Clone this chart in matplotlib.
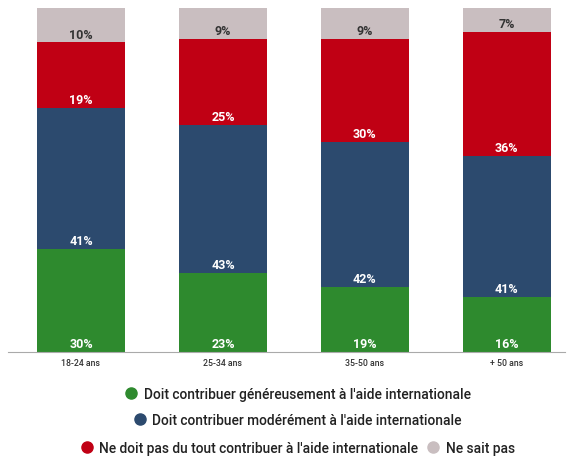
import matplotlib.pyplot as plt
from matplotlib.lines import Line2D

plt.rcParams['font.family'] = ['Roboto', 'DejaVu Sans']

ages = ['18-24 ans', '25-34 ans', '35-50 ans', '+ 50 ans']
genereux = [30, 23, 19, 16]
modere = [41, 43, 42, 41]
pas_du_tout = [19, 25, 30, 36]
ne_sait_pas = [10, 9, 9, 7]

series = [
    ("Doit contribuer généreusement à l'aide internationale", genereux, '#2e8a2e', 'white'),
    ("Doit contribuer modérément à l'aide internationale", modere, '#2c4a6e', 'white'),
    ("Ne doit pas du tout contribuer à l'aide internationale", pas_du_tout, '#c00014', 'white'),
    ("Ne sait pas", ne_sait_pas, '#c9bec0', '#333333'),
]

fig = plt.figure(figsize=(5.72, 4.6), dpi=100)
ax = fig.add_axes([8 / 572, 1 - 353 / 460, 557 / 572, 344 / 460])

x = list(range(len(ages)))
bottom = [0] * len(ages)
for name, vals, col, tcol in series:
    ax.bar(x, vals, bottom=bottom, width=0.62, color=col, label=name)
    for i, v in enumerate(vals):
        ax.text(i, bottom[i] + 2.4, f'{v}%', ha='center', va='center',
                color=tcol, fontsize=9, fontweight='bold')
    bottom = [b + v for b, v in zip(bottom, vals)]

ax.set_xlim(-0.514, 3.41)
ax.set_ylim(0, 100)
ax.set_xticks(x)
ax.set_xticklabels(ages, fontsize=6.3, color='#333333', fontweight='medium')
ax.tick_params(axis='x', length=0, pad=4)
ax.set_yticks([])
for s in ['top', 'right', 'left']:
    ax.spines[s].set_visible(False)
ax.spines['bottom'].set_color('#aaaaaa')

def handle(col):
    return Line2D([], [], marker='o', linestyle='', markersize=8,
                  markerfacecolor=col, markeredgecolor=col)

rows = [([0], 395), ([1], 421), ([2, 3], 449)]
for idx, ypix in rows:
    leg = fig.legend([handle(series[i][2]) for i in idx],
                     [series[i][0] for i in idx],
                     loc='center', bbox_to_anchor=(0.52, 1 - ypix / 460),
                     ncol=len(idx), frameon=False, handletextpad=0.4,
                     columnspacing=0.6, handlelength=1.0,
                     prop={'size': 9.9, 'weight': 'medium'})
    for t in leg.get_texts():
        t.set_color('#222222')

fig.savefig('out.png', dpi=100)
